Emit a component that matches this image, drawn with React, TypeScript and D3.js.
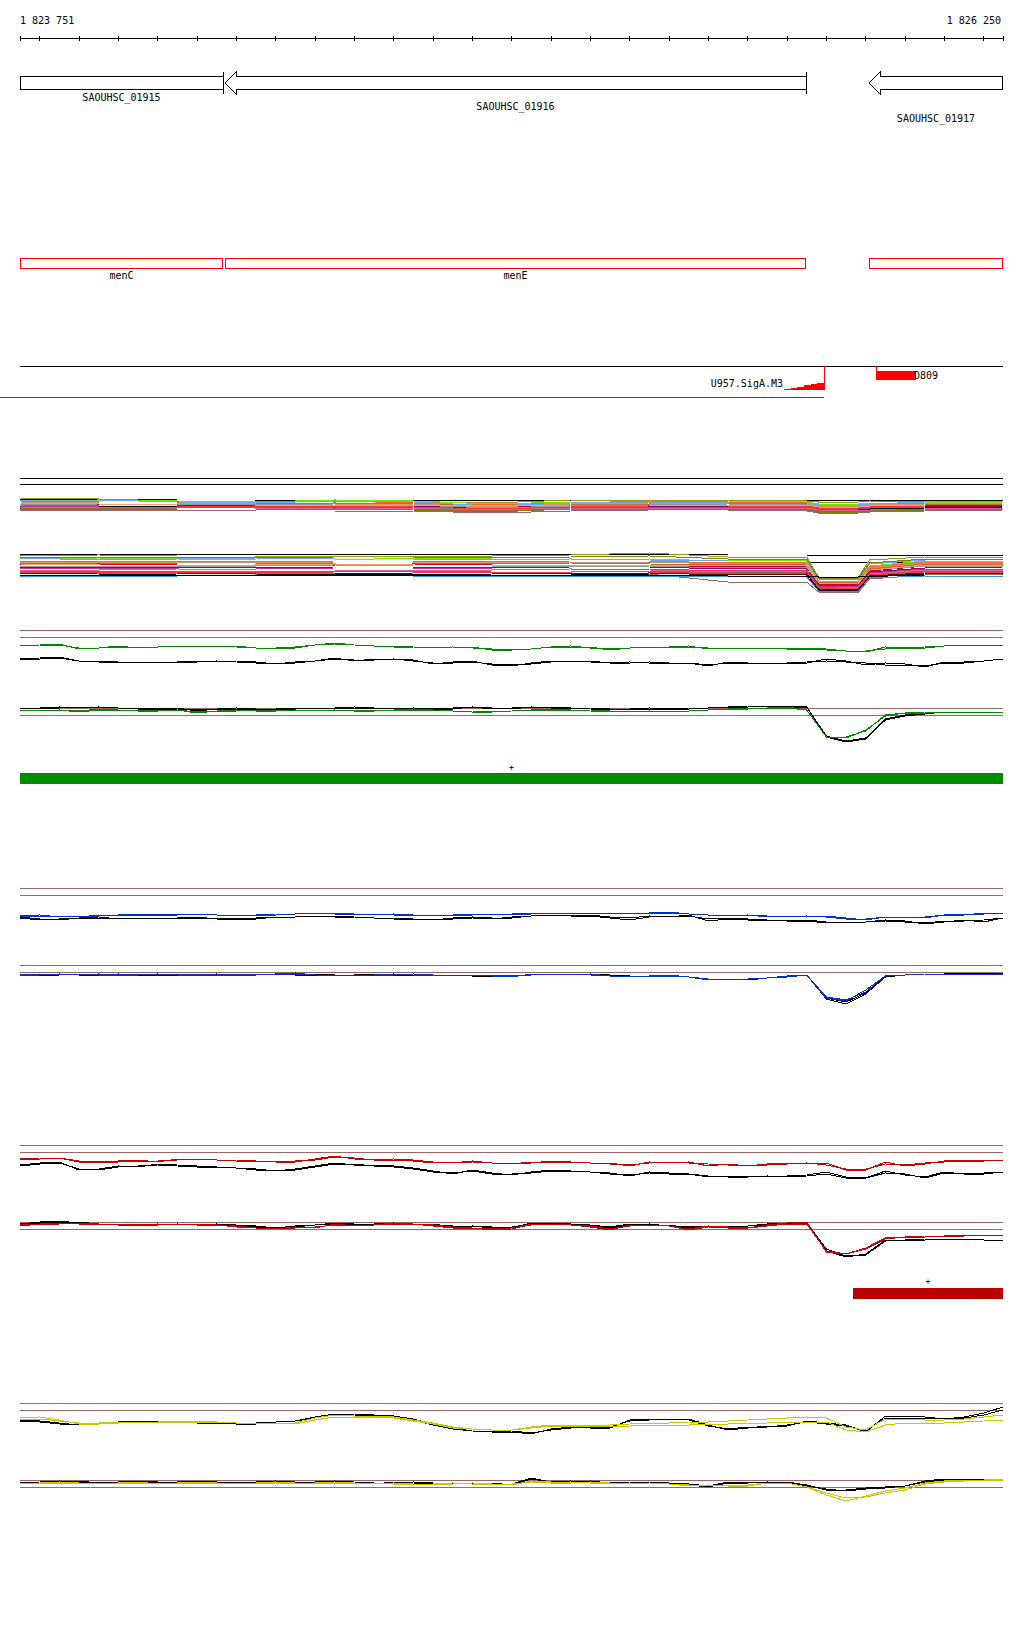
import React from 'react';
import * as d3 from 'd3';

// ---------- genomic window ----------
const START = 1823751;
const END = 1826250;
const TICK_POSITIONS = d3.range(1823800, 1826201, 100);
const RULER_LABELS = ['1 823 751', '1 826 250'];

// genes (bp), strand, truncated flags
const GENE_NAMES = ['SAOUHSC_01915', 'SAOUHSC_01916', 'SAOUHSC_01917'];
const GENE_STARTS = [1823751, 1824272, 1825909];
const GENE_ENDS = [1824267, 1825749, 1826250];
const GENE_STRANDS = ['+', '-', '-'];
const GENE_OPEN_LEFT = [true, false, false];
const GENE_OPEN_RIGHT = [false, false, true];
const CDS_NAMES = ['menC', 'menE', ''];

// promoter / terminator features
const PROMOTER_NAME = 'U957.SigA.M3';
const PROMOTER_START = 1823700;
const PROMOTER_END = 1825795;
const PROMOTER_RAMP_START = 1825693;
const TERM_NAME = 'D809';
const TERM_START = 1825927;
const TERM_END = 1826029;

// sampling positions of the traces (every 50 bp)
const POS = d3.range(51).map((i) => Math.min(START + i * 50, END));
// sampling positions of the multi-colour bands
const BAND_POS = [1823751, 1823951, 1824151, 1824351, 1824551, 1824751, 1824951, 1825151, 1825351, 1825551, 1825751, 1825781, 1825881, 1825911, 1826051, 1826250];

// ---------- multi colour band 1 (depth below band top) ----------
const BAND1_COLORS = ['#000000', '#999900', '#66ee00', '#ff6633', '#cc6633', '#66aaff', '#cc0033', '#990066', '#999999', '#000033', '#cc9966', '#cc6699', '#996633', '#cc3399', '#808000', '#ff9966', '#ff3333', '#996666'];
const BAND1_VALUES = [
  [2, 2, 3, 3, 3, 3, 3, 3, 3, 3, 3, 3, 3, 3, 3, 3],
  [1, 2, 4, 4, 4, 5, 6, 3, 3, 3, 4, 5, 5, 4, 5, 5],
  [3, 3, 4, 5, 3, 4, 7, 5, 5, 4, 5, 7, 7, 6, 6, 5],
  [4, 5, 5, 5, 4, 6, 8, 6, 4, 5, 6, 8, 8, 7, 6, 6],
  [5, 6, 6, 7, 6, 7, 9, 7, 7, 6, 7, 9, 10, 9, 8, 7],
  [4, 3, 5, 6, 4, 5, 9, 6, 5, 6, 6, 8, 8, 7, 5, 4],
  [6, 7, 7, 8, 8, 8, 10, 8, 8, 8, 8, 10, 11, 10, 9, 8],
  [7, 8, 8, 8, 9, 9, 11, 9, 9, 9, 9, 11, 12, 11, 10, 9],
  [8, 7, 7, 8, 7, 8, 11, 9, 8, 7, 8, 10, 10, 9, 8, 8],
  [9, 9, 9, 10, 10, 10, 12, 10, 10, 10, 10, 12, 13, 12, 11, 10],
  [5, 6, 6, 7, 7, 7, 10, 7, 6, 7, 7, 9, 9, 8, 7, 6],
  [10, 10, 11, 11, 11, 11, 13, 11, 11, 11, 11, 13, 14, 13, 12, 11],
  [11, 11, 12, 12, 12, 12, 14, 12, 12, 12, 12, 14, 15, 14, 12, 12],
  [9, 10, 10, 10, 10, 10, 12, 10, 10, 10, 10, 12, 12, 11, 10, 10],
  [12, 12, 13, 13, 12, 13, 15, 12, 12, 13, 13, 15, 15, 14, 13, 12],
  [6, 7, 8, 8, 8, 8, 9, 8, 8, 8, 8, 10, 10, 9, 8, 8],
  [8, 9, 9, 9, 9, 10, 12, 10, 9, 9, 9, 11, 11, 10, 9, 9],
  [13, 13, 13, 14, 14, 14, 16, 14, 13, 13, 14, 16, 16, 15, 14, 13],
];

// ---------- multi colour band 2 ----------
const BAND2_COLORS = ['#000000', '#000000', '#999900', '#66ee00', '#ff6633', '#cc6633', '#66aaff', '#cc0033', '#990066', '#999999', '#000033', '#cc9966', '#cc6699', '#996633', '#cc3399', '#808000', '#ff9966', '#ff3333', '#996666', '#3399cc', '#660000', '#000000'];
const N = null;
const BAND2_VALUES = [
  [2, 2, 2, 2, 2, 2, 2, 2, 2, 3, 3, 3, 3, 3, 3, 3],
  [N, N, N, N, N, N, N, N, 10, 10, 10, 10, 10, 10, 10, 10],
  [4, 3, 4, 4, 4, 4, 4, 3, 1, 5, 5, 25, 26, 8, 5, 5],
  [7, 6, 7, 8, 8, 6, 7, 7, 7, 9, 8, 27, 28, 14, 9, 9],
  [9, 9, 9, 10, 9, 9, 10, 9, 9, 11, 10, 29, 30, 15, 10, 10],
  [11, 11, 12, 12, 11, 11, 12, 11, 12, 13, 12, 30, 31, 17, 12, 12],
  [6, 8, 7, 6, 7, 7, 8, 7, 8, 9, 9, 27, 28, 12, 8, 7],
  [13, 12, 13, 13, 13, 12, 13, 13, 13, 15, 14, 32, 33, 19, 14, 14],
  [15, 15, 15, 16, 15, 15, 16, 15, 15, 17, 16, 33, 34, 20, 16, 15],
  [14, 14, 14, 14, 13, 14, 14, 14, 14, 16, 15, 31, 32, 18, 14, 14],
  [23, 23, 22, 22, 22, 23, 22, 22, 23, 25, 24, 38, 39, 25, 22, 22],
  [10, 10, 10, 11, 10, 10, 10, 10, 10, 12, 11, 29, 30, 16, 11, 11],
  [18, 18, 17, 18, 18, 18, 18, 17, 18, 20, 19, 35, 36, 22, 18, 18],
  [19, 19, 19, 19, 19, 20, 19, 19, 19, 21, 20, 35, 37, 23, 19, 19],
  [16, 16, 17, 17, 16, 16, 17, 17, 17, 19, 18, 34, 35, 21, 17, 17],
  [5, 5, 5, 6, 5, 5, 6, 5, 4, 7, 7, 26, 27, 11, 7, 7],
  [12, 13, 13, 13, 12, 13, 13, 13, 13, 14, 13, 31, 32, 18, 13, 13],
  [20, 20, 20, 21, 20, 20, 21, 20, 20, 22, 21, 36, 37, 23, 20, 20],
  [21, 22, 21, 21, 21, 22, 22, 21, 22, 30, 30, 40, 41, 27, 23, 22],
  [24, 24, 24, 23, 24, 24, 24, 24, 24, 25, 25, 39, 40, 26, 24, 24],
  [22, 21, 21, 22, 22, 21, 21, 22, 21, 23, 22, 37, 38, 24, 21, 21],
  [23, 23, 23, 23, 23, 23, 23, 23, 23, 24, 24, 25, 25, 24, 23, 23],
];

// ---------- green condition ----------
const GREEN_TOP_1 = [9, 8, 7, 12, 11, 9, 11, 10, 9, 9, 9, 9, 11, 11, 11, 8, 6, 8, 9, 9, 10, 11, 10, 10, 13, 13, 12, 10, 9, 11, 11, 11, 10, 10, 9, 12, 11, 11, 11, 11, 11, 12, 14, 15, 10, 11, 11, 9, 8, 8, 9];
const GREEN_TOP_2 = [9, 8, 8, 11, 11, 10, 10, 10, 9, 9, 9, 10, 11, 11, 10, 8, 7, 8, 9, 10, 10, 11, 10, 11, 12, 13, 12, 10, 10, 10, 13, 11, 10, 10, 10, 11, 11, 11, 11, 12, 12, 13, 14, 14, 12, 11, 10, 9, 8, 8, 9];
const GREEN_TOP_REF_1 = [22, 21, 20, 24, 24, 25, 25, 26, 25, 24, 24, 24, 25, 27, 26, 24, 21, 24, 22, 22, 23, 27, 25, 24, 28, 29, 26, 24, 24, 25, 26, 25, 26, 26, 26, 29, 25, 26, 26, 26, 26, 22, 24, 28, 26, 27, 30, 25, 25, 24, 22];
const GREEN_TOP_REF_2 = [22, 22, 21, 24, 25, 25, 26, 25, 25, 25, 24, 25, 26, 27, 25, 24, 22, 23, 23, 22, 24, 26, 26, 25, 27, 28, 27, 25, 24, 24, 26, 26, 25, 26, 26, 28, 26, 26, 26, 26, 25, 24, 25, 26, 28, 28, 29, 26, 26, 24, 22];
const GREEN_BOT_1 = [-5, -4, -5, -4, -6, -5, -5, -4, -5, -2, -4, -5, -4, -4, -5, -5, -5, -4, -5, -5, -6, -5, -4, -3, -3, -4, -5, -6, -5, -5, -4, -3, -4, -3, -4, -5, -6, -7, -7, -7, -5, 22, 23, 15, 1, -2, -3, -3, -3, -3, -3];
const GREEN_BOT_2 = [-4, -5, -5, -3, -5, -5, -4, -4, -5, -3, -4, -4, -5, -4, -5, -4, -5, -4, -4, -5, -5, -5, -4, -4, -3, -4, -5, -5, -5, -4, -3, -4, -4, -4, -4, -5, -6, -6, -7, -8, -5, 22, 22, 16, 0, -2, -2, -3, -3, -3, -3];
const GREEN_BOT_REF_1 = [-7, -7, -7, -8, -8, -7, -7, -6, -6, -5, -6, -6, -6, -6, -6, -7, -7, -8, -7, -6, -6, -6, -6, -8, -7, -6, -8, -8, -7, -6, -5, -6, -6, -6, -6, -7, -8, -8, -9, -9, -8, 21, 26, 23, 4, 0, -2, -3, -3, -3, -3];
const GREEN_BOT_REF_2 = [-6, -7, -8, -7, -8, -7, -6, -6, -7, -4, -6, -7, -6, -6, -7, -7, -6, -7, -7, -6, -7, -6, -7, -8, -6, -7, -8, -7, -7, -7, -6, -6, -7, -6, -7, -7, -8, -9, -9, -8, -8, 22, 27, 24, 5, 1, -1, -3, -3, -3, -3];

// ---------- blue condition ----------
const BLUE_TOP_1 = [21, 20, 22, 21, 21, 20, 19, 20, 20, 19, 20, 21, 20, 19, 19, 18, 18, 19, 20, 19, 20, 21, 20, 19, 19, 20, 19, 18, 18, 18, 19, 18, 18, 17, 19, 20, 20, 20, 22, 21, 21, 21, 23, 25, 22, 22, 22, 20, 19, 19, 18];
const BLUE_TOP_2 = [21, 21, 21, 22, 20, 20, 20, 20, 19, 19, 20, 20, 20, 20, 19, 18, 19, 19, 19, 20, 20, 20, 20, 20, 19, 19, 18, 18, 19, 18, 18, 19, 18, 18, 19, 20, 21, 20, 21, 22, 21, 22, 24, 24, 22, 22, 23, 20, 20, 18, 18];
const BLUE_TOP_REF_1 = [22, 24, 25, 23, 22, 24, 23, 24, 23, 22, 24, 25, 24, 22, 22, 21, 21, 22, 23, 23, 24, 25, 23, 22, 23, 23, 21, 20, 20, 20, 22, 23, 21, 22, 20, 26, 24, 25, 26, 25, 25, 27, 28, 27, 25, 26, 29, 27, 25, 27, 23];
const BLUE_TOP_REF_2 = [23, 25, 24, 23, 23, 23, 23, 23, 23, 23, 23, 24, 23, 22, 22, 21, 22, 22, 23, 24, 24, 24, 24, 23, 24, 22, 21, 20, 21, 21, 23, 25, 22, 21, 21, 24, 23, 24, 25, 26, 26, 28, 27, 27, 26, 27, 28, 26, 26, 25, 23];
const BLUE_BOT_1 = [3, 2, 2, 3, 2, 3, 3, 2, 2, 3, 3, 3, 2, 2, 1, 3, 4, 3, 3, 2, 3, 4, 3, 3, 4, 5, 2, 2, 2, 2, 4, 4, 4, 3, 5, 8, 7, 7, 6, 4, 3, 26, 29, 18, 4, 3, 2, 2, 2, 2, 2];
const BLUE_BOT_2 = [3, 3, 2, 2, 3, 3, 2, 2, 3, 3, 2, 3, 3, 2, 2, 3, 3, 4, 3, 3, 2, 3, 4, 3, 3, 4, 3, 2, 2, 3, 4, 5, 4, 4, 5, 7, 8, 7, 6, 5, 3, 25, 28, 20, 4, 3, 2, 2, 2, 2, 2];
const BLUE_BOT_REF_1 = [2, 3, 3, 2, 2, 3, 3, 3, 3, 2, 3, 2, 2, 3, 2, 2, 3, 3, 2, 3, 3, 3, 3, 3, 4, 5, 2, 2, 3, 2, 3, 4, 4, 4, 5, 7, 7, 8, 6, 4, 3, 27, 32, 22, 5, 3, 2, 2, 1, 1, 1];
const BLUE_BOT_REF_2 = [3, 3, 2, 3, 3, 2, 3, 2, 3, 3, 2, 3, 3, 2, 3, 3, 4, 3, 3, 3, 3, 3, 3, 4, 4, 4, 3, 2, 2, 3, 4, 5, 4, 4, 5, 8, 7, 7, 6, 5, 3, 26, 30, 21, 5, 3, 2, 2, 2, 1, 1];

// ---------- red condition ----------
const RED_TOP_1 = [7, 6, 6, 10, 10, 9, 8, 10, 7, 7, 8, 8, 9, 10, 10, 7, 4, 7, 8, 7, 8, 10, 11, 9, 11, 11, 11, 9, 10, 11, 11, 14, 10, 11, 10, 14, 12, 14, 12, 11, 11, 11, 18, 18, 10, 14, 12, 9, 8, 9, 8];
const RED_TOP_2 = [7, 7, 6, 9, 10, 10, 9, 9, 8, 7, 8, 9, 9, 10, 9, 8, 5, 6, 8, 8, 9, 11, 10, 10, 11, 12, 10, 10, 10, 11, 12, 13, 11, 10, 11, 12, 13, 13, 13, 12, 11, 13, 17, 17, 12, 13, 11, 10, 9, 9, 8];
const RED_TOP_REF_1 = [13, 11, 10, 18, 17, 14, 15, 12, 13, 14, 15, 16, 17, 19, 17, 14, 11, 13, 13, 14, 16, 19, 22, 18, 21, 23, 20, 18, 19, 20, 21, 24, 20, 21, 22, 25, 24, 24, 25, 24, 23, 20, 25, 26, 19, 23, 25, 20, 22, 22, 20];
const RED_TOP_REF_2 = [14, 12, 11, 17, 18, 15, 14, 13, 14, 15, 15, 16, 18, 18, 18, 15, 12, 12, 14, 15, 17, 20, 21, 19, 22, 22, 21, 19, 19, 20, 22, 23, 21, 22, 22, 24, 25, 25, 24, 25, 24, 22, 26, 26, 21, 22, 26, 21, 21, 21, 20];
const RED_BOT_1 = [-4, -5, -5, -6, -5, -5, -4, -4, -5, -4, -4, -2, -1, 0, -2, -1, -5, -3, -4, -6, -5, -3, -1, -1, 1, 0, -5, -5, -4, -2, 1, -4, -4, -3, 1, -2, -1, -1, -4, -6, -7, 23, 25, 19, 9, 8, 8, 7, 6, 6, 6];
const RED_BOT_2 = [-3, -5, -6, -5, -5, -4, -4, -5, -4, -5, -4, -3, -1, -1, -1, -2, -4, -4, -4, -5, -5, -4, -2, -1, 0, -1, -4, -5, -4, -3, 0, -3, -4, -3, 0, -3, -2, -1, -3, -5, -5, 22, 25, 20, 10, 8, 7, 7, 7, 6, 6];
const RED_BOT_REF_1 = [-5, -7, -8, -6, -5, -5, -5, -4, -5, -5, -5, -4, -3, -1, -3, -4, -6, -5, -5, -6, -5, -4, -3, -3, -2, -1, -6, -6, -5, -4, -2, -5, -4, -4, -1, -3, -3, -3, -5, -6, -7, 22, 28, 25, 11, 11, 10, 10, 10, 11, 12];
const RED_BOT_REF_2 = [-6, -6, -7, -7, -5, -5, -4, -4, -5, -4, -5, -4, -2, -2, -2, -4, -5, -5, -5, -5, -5, -5, -2, -3, -1, -2, -5, -6, -5, -3, -1, -4, -5, -3, -2, -3, -3, -3, -4, -5, -6, 20, 27, 26, 12, 11, 11, 10, 10, 11, 12];

// ---------- yellow condition ----------
const YEL_TOP_1 = [8, 7, 10, 14, 14, 13, 12, 12, 11, 11, 12, 13, 14, 13, 13, 8, 5, 6, 6, 7, 10, 13, 17, 19, 20, 20, 17, 15, 15, 15, 15, 14, 13, 13, 12, 12, 11, 10, 9, 8, 7, 8, 17, 20, 9, 9, 10, 10, 9, 7, 5];
const YEL_TOP_2 = [9, 9, 11, 13, 13, 12, 12, 12, 12, 12, 12, 13, 13, 13, 14, 10, 7, 7, 7, 8, 11, 14, 18, 19, 20, 20, 18, 16, 16, 16, 16, 16, 15, 15, 15, 14, 14, 13, 13, 12, 12, 12, 20, 22, 15, 13, 13, 13, 12, 11, 10];
const YEL_TOP_REF_1 = [10, 11, 13, 15, 14, 13, 11, 11, 12, 12, 13, 14, 14, 12, 11, 7, 4, 4, 5, 6, 9, 14, 18, 21, 22, 22, 24, 19, 17, 18, 18, 10, 9, 9, 9, 15, 20, 18, 16, 16, 11, 13, 15, 22, 6, 6, 7, 9, 7, 3, -3];
const YEL_TOP_REF_2 = [11, 12, 14, 15, 14, 12, 11, 12, 12, 13, 13, 14, 13, 12, 11, 8, 5, 5, 6, 7, 10, 15, 19, 21, 22, 21, 23, 20, 18, 17, 17, 11, 10, 9, 10, 16, 19, 17, 17, 15, 12, 14, 16, 21, 8, 8, 9, 8, 8, 5, 0];
const YEL_BOT_1 = [-3, -4, -5, -4, -3, -4, -5, -3, -4, -5, -4, -3, -4, -5, -4, -4, -5, -4, -3, -4, -3, -2, -3, -4, -3, -2, -6, -5, -5, -4, -4, -3, -4, -3, -1, -2, -1, -1, -4, -4, 0, 8, 14, 9, 4, 1, -4, -6, -7, -7, -8];
const YEL_BOT_2 = [-4, -4, -4, -4, -4, -3, -4, -4, -3, -4, -4, -4, -3, -4, -3, -4, -4, -3, -4, -3, -3, -3, -4, -3, -3, -3, -5, -4, -4, -5, -4, -4, -4, -3, -2, -2, -2, -2, -4, -4, 0, 6, 11, 10, 6, 3, -3, -5, -6, -7, -7];
const YEL_BOT_REF_1 = [-4, -5, -6, -5, -4, -5, -6, -5, -5, -6, -5, -4, -5, -6, -5, -5, -6, -5, -4, -4, -5, -4, -3, -4, -4, -2, -8, -5, -5, -6, -4, -5, -5, -4, -3, -1, -5, -4, -5, -5, -2, 3, 3, 1, 0, -1, -6, -8, -8, -8, -8];
const YEL_BOT_REF_2 = [-3, -4, -5, -6, -4, -4, -5, -4, -4, -5, -4, -3, -4, -5, -4, -4, -5, -4, -3, -5, -4, -3, -4, -3, -3, -3, -9, -5, -6, -5, -4, -4, -4, -3, -2, 0, -4, -4, -5, -4, -1, 2, 4, 2, 1, -1, -5, -7, -8, -8, -8];

// significance bars (bp)
const GREEN_BAR = [1823751, 1826250];
const RED_BAR = [1825869, 1826250];

const FONT = '"DejaVu Sans Mono", "Liberation Mono", monospace';
const BROWN = '#a06464';

export default function App() {
  const x = d3.scaleLinear().domain([START, END]).range([20, 1003]);
  const depth = (ref: number) => d3.scaleLinear().domain([0, 10]).range([ref, ref + 10]);

  const traceLine = (ref: number) => {
    const y = depth(ref);
    return d3.line<number>().x((_, i) => x(POS[i])).y((v) => y(v));
  };
  const bandLine = (ref: number) => {
    const y = depth(ref);
    return d3
      .line<number | null>()
      .defined((v) => v !== null)
      .x((_, i) => x(BAND_POS[i]))
      .y((v) => y(v as number));
  };

  const sections = [
    { color: '#008800', top: 637, bottom: 715, topS: [GREEN_TOP_1, GREEN_TOP_2], topR: [GREEN_TOP_REF_1, GREEN_TOP_REF_2], botS: [GREEN_BOT_1, GREEN_BOT_2], botR: [GREEN_BOT_REF_1, GREEN_BOT_REF_2] },
    { color: '#0033cc', top: 895, bottom: 972, topS: [BLUE_TOP_1, BLUE_TOP_2], topR: [BLUE_TOP_REF_1, BLUE_TOP_REF_2], botS: [BLUE_BOT_1, BLUE_BOT_2], botR: [BLUE_BOT_REF_1, BLUE_BOT_REF_2] },
    { color: '#cc0000', top: 1152, bottom: 1229, topS: [RED_TOP_1, RED_TOP_2], topR: [RED_TOP_REF_1, RED_TOP_REF_2], botS: [RED_BOT_1, RED_BOT_2], botR: [RED_BOT_REF_1, RED_BOT_REF_2] },
    { color: '#c8c800', top: 1410, bottom: 1487, topS: [YEL_TOP_1, YEL_TOP_2], topR: [YEL_TOP_REF_1, YEL_TOP_REF_2], botS: [YEL_BOT_1, YEL_BOT_2], botR: [YEL_BOT_REF_1, YEL_BOT_REF_2] },
  ];

  const labelBaselines = [101, 110, 122];
  const x0 = 20;
  const x1 = 1003;

  // promoter ramp steps
  const rampX0 = x(PROMOTER_RAMP_START);
  const rampX1 = x(PROMOTER_END);
  const steps = 6;
  let rampPts = `${rampX0},390 `;
  for (let s = 0; s < steps; s++) {
    const xa = rampX0 + ((rampX1 - rampX0) * s) / steps;
    const xb = rampX0 + ((rampX1 - rampX0) * (s + 1)) / steps;
    const h = 390 - ((s + 1) * 7) / steps;
    rampPts += `${xa},${h} ${xb},${h} `;
  }
  rampPts += `${rampX1},390`;

  return (
    <svg width={1024} height={1640} style={{ position: 'absolute', left: 0, top: 0, background: '#fff' }} shapeRendering="crispEdges" fontFamily={FONT} fontSize={10}>
      <rect x={0} y={0} width={1024} height={1640} fill="#fff" />
      {/* ruler */}
      <text x={x0} y={24} fill="#000">{RULER_LABELS[0]}</text>
      <text x={1001} y={24} fill="#000" textAnchor="end">{RULER_LABELS[1]}</text>
      <line x1={x(START)} x2={x(END)} y1={38.5} y2={38.5} stroke="#000" />
      {[START, ...TICK_POSITIONS, END].map((t, i) => (
        <line key={i} x1={Math.round(x(t)) + 0.5} x2={Math.round(x(t)) + 0.5} y1={36} y2={41} stroke="#000" />
      ))}

      {/* genes */}
      {GENE_NAMES.map((g, i) => {
        const a = Math.round(x(GENE_STARTS[i]));
        const b = Math.round(x(GENE_ENDS[i]));
        const top = 76.5, bot = 89.5, mid = 83, ht = 72, hb = 94;
        const parts: JSX.Element[] = [];
        if (GENE_STRANDS[i] === '-' && !GENE_OPEN_LEFT[i]) {
          const hb0 = a + 11;
          parts.push(
            <polyline key="p" fill="#fff" stroke="#000" points={`${b},${top} ${hb0},${top} ${hb0},${ht} ${a},${mid} ${hb0},${hb} ${hb0},${bot} ${b},${bot}`} />
          );
        } else {
          parts.push(<polyline key="p" fill="#fff" stroke="#000" points={`${b},${top} ${a + 0.5},${top} ${a + 0.5},${bot} ${b},${bot}`} />);
        }
        if (GENE_OPEN_RIGHT[i]) {
          parts.push(<line key="r" x1={b - 0.5} x2={b - 0.5} y1={top} y2={bot} stroke="#000" />);
        } else {
          parts.push(<line key="r" x1={b + 0.5} x2={b + 0.5} y1={ht} y2={hb} stroke="#000" />);
        }
        return (
          <g key={g}>
            {parts}
            <text x={(a + b) / 2} y={labelBaselines[i]} textAnchor="middle" fill="#000">{g}</text>
          </g>
        );
      })}

      {/* CDS boxes */}
      {CDS_NAMES.map((c, i) => {
        const a = Math.round(x(GENE_STARTS[i]));
        const b = Math.round(x(GENE_ENDS[i]));
        return (
          <g key={i}>
            <rect x={a + 0.5} y={258.5} width={b - a - 1} height={10} fill="none" stroke="#ff0000" />
            {c && <text x={(a + b) / 2} y={279} textAnchor="middle" fill="#000">{c}</text>}
          </g>
        );
      })}

      {/* promoter / terminator track */}
      <line x1={x(START)} x2={x(END)} y1={366.5} y2={366.5} stroke="#000" />
      <line x1={0} x2={x(PROMOTER_END)} y1={397.5} y2={397.5} stroke="#ff0000" />
      <line x1={x(PROMOTER_END) + 0.5} x2={x(PROMOTER_END) + 0.5} y1={366} y2={390} stroke="#ff0000" />
      <polygon points={rampPts} fill="#ff0000" stroke="none" />
      <line x1={rampX0} x2={rampX1} y1={389.5} y2={389.5} stroke="#ff0000" />
      <text x={783} y={387} textAnchor="end" fill="#000">{PROMOTER_NAME}</text>
      <line x1={x(TERM_START) + 0.5} x2={x(TERM_START) + 0.5} y1={366} y2={372} stroke="#ff0000" />
      <rect x={x(TERM_START)} y={371} width={x(TERM_END) - x(TERM_START)} height={9} fill="#ff0000" />
      <text x={x(TERM_END) - 2} y={379} fill="#000">{TERM_NAME}</text>

      {/* separator lines */}
      <line x1={x0} x2={x1} y1={478.5} y2={478.5} stroke="#000" />
      <line x1={x0} x2={x1} y1={484.5} y2={484.5} stroke="#000" />

      {/* multicolour bands */}
      {BAND1_VALUES.map((vals, i) => (
        <path key={'b1' + i} d={bandLine(497)(vals) || ''} fill="none" stroke={BAND1_COLORS[i]} strokeWidth={1} />
      ))}
      {BAND2_VALUES.map((vals, i) => (
        <path key={'b2' + i} d={bandLine(552)(vals) || ''} fill="none" stroke={BAND2_COLORS[i]} strokeWidth={1} />
      ))}

      {/* condition sections */}
      {sections.map((s, si) => {
        const lt = traceLine(s.top);
        const lb = traceLine(s.bottom);
        return (
          <g key={si}>
            <line x1={x0} x2={x1} y1={s.top - 7 + 0.5} y2={s.top - 7 + 0.5} stroke={BROWN} />
            <line x1={x0} x2={x1} y1={s.top + 0.5} y2={s.top + 0.5} stroke={BROWN} />
            <line x1={x0} x2={x1} y1={s.bottom - 7 + 0.5} y2={s.bottom - 7 + 0.5} stroke={BROWN} />
            <line x1={x0} x2={x1} y1={s.bottom + 0.5} y2={s.bottom + 0.5} stroke={BROWN} />
            {s.topR.map((v, i) => <path key={'tr' + i} d={lt(v) || ''} fill="none" stroke="#000" />)}
            {s.topS.map((v, i) => <path key={'ts' + i} d={lt(v) || ''} fill="none" stroke={s.color} />)}
            {s.botR.map((v, i) => <path key={'br' + i} d={lb(v) || ''} fill="none" stroke="#000" />)}
            {s.botS.map((v, i) => <path key={'bs' + i} d={lb(v) || ''} fill="none" stroke={s.color} />)}
          </g>
        );
      })}

      {/* significance bars */}
      <text x={(x(GREEN_BAR[0]) + x(GREEN_BAR[1])) / 2} y={770} textAnchor="middle" fill="#000" fontSize={9}>+</text>
      <rect x={x(GREEN_BAR[0])} y={773} width={x(GREEN_BAR[1]) - x(GREEN_BAR[0])} height={11} fill="#008c00" />
      <text x={(x(RED_BAR[0]) + x(RED_BAR[1])) / 2} y={1284} textAnchor="middle" fill="#000" fontSize={9}>+</text>
      <rect x={x(RED_BAR[0])} y={1288} width={x(RED_BAR[1]) - x(RED_BAR[0])} height={11} fill="#bb0000" />
    </svg>
  );
}
